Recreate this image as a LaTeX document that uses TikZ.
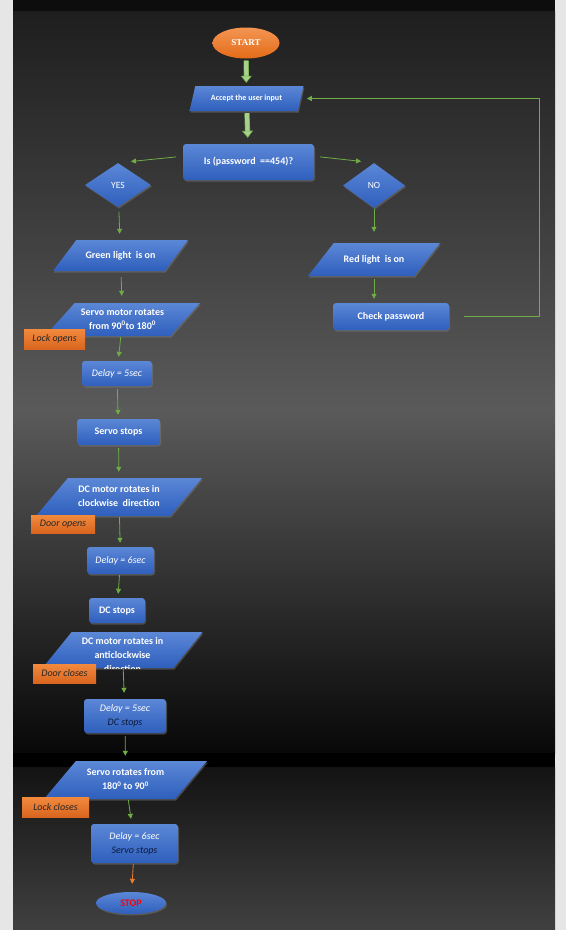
\documentclass[tikz,border=0pt]{standalone}
\usepackage{fontspec}
\setmainfont{Carlito}
\newfontfamily\startfont{Liberation Serif}
\usetikzlibrary{arrows.meta, shapes.geometric, shadows}

\definecolor{bluetop}{HTML}{5B87D6}
\definecolor{bluebot}{HTML}{2F5FBD}
\definecolor{flowgreen}{HTML}{70AD47}
\definecolor{palegreen}{HTML}{A9D18E}
\definecolor{orangetop}{HTML}{F28A3E}
\definecolor{orangebot}{HTML}{D9651F}
\definecolor{starttop}{HTML}{F39552}
\definecolor{startbot}{HTML}{E46C19}
\definecolor{arroworange}{HTML}{ED7D31}
\definecolor{inknavy}{HTML}{0B1A3A}
\definecolor{pagegrey}{HTML}{E6E6E6}
\definecolor{bgA}{HTML}{1E1E1E}
\definecolor{bgB}{HTML}{5A5A5A}
\definecolor{bgC}{HTML}{080808}
\definecolor{bgD}{HTML}{131313}
\definecolor{bgE}{HTML}{404040}

% text of a parallelogram, in a box as tall as the shape
\newcommand\paralines[2]{\vbox to #1pt{\vss\hbox{\begin{tabular}{@{}c@{}}#2\end{tabular}}\vss}}

\begin{document}
\begin{tikzpicture}[x=1pt, y=-1pt,
  every node/.style={font=\fontsize{10}{14}\selectfont\bfseries, text=white, align=center},
  bluefill/.style={top color=bluetop, bottom color=bluebot,
    drop shadow={shadow xshift=1pt, shadow yshift=-1.5pt, opacity=0.45}},
  box/.style={bluefill, rectangle, rounded corners=3pt, inner sep=1pt},
  para/.style={bluefill, trapezium, trapezium stretches body, inner sep=0pt},
  choice/.style={bluefill, diamond, inner sep=0pt, font=\fontsize{9.5}{10}\selectfont},
  tag/.style={rectangle, top color=orangetop, bottom color=orangebot, inner sep=1pt,
    font=\fontsize{10}{12}\selectfont\itshape, text=black!85},
  slanted/.style={font=\fontsize{10}{14}\selectfont\itshape},
  flow/.style={draw=flowgreen, line width=0.8pt, -{Triangle[width=5pt,length=5pt]},
    shorten <=3pt, shorten >=4pt},
  fat/.style={draw=flowgreen, line width=0.6pt, double=palegreen, double distance=4pt,
    -{Triangle[width=11pt,length=7pt,fill=palegreen]}, shorten <=2pt, shorten >=3pt}]

\useasboundingbox (0,0) rectangle (566,930);
\fill[pagegrey] (0,0) rectangle (566,930);
\fill[black!95] (13,0) rectangle (555,11);
\shade[top color=bgA, bottom color=bgB] (13,11) rectangle (555,410);
\shade[top color=bgB, bottom color=bgC] (13,410) rectangle (555,753);
\fill[black] (13,753) rectangle (555,767);
\shade[top color=bgD, bottom color=bgE] (13,767) rectangle (555,930);

\node[ellipse, minimum width=67, minimum height=31, inner sep=1pt, top color=starttop,
  bottom color=startbot, font=\startfont\bfseries\fontsize{9}{10}\selectfont] (start) at (246,43) {START};
\node[para, trapezium left angle=77, trapezium right angle=103, minimum width=114,
  font=\fontsize{8}{10}\selectfont\bfseries] (accept) at (246.5,98.5) {\paralines{25}{Accept the user input}};
\node[box, minimum width=131, minimum height=36] (check454) at (248.5,162) {Is (password\ \ ==454)?};
\node[choice, minimum width=66, minimum height=44] (yes) at (118,185) {YES};
\node[choice, minimum width=62, minimum height=45] (no) at (374,185.5) {NO};

\node[para, trapezium left angle=53, trapezium right angle=127, minimum width=135]
  (greenlight) at (120.5,255.5) {\paralines{31}{Green light\ \ is on}};
\node[para, trapezium left angle=52, trapezium right angle=128, minimum width=132]
  (redlight) at (374,259.5) {\paralines{33}{Red light\ \ is on}};
\node[box, minimum width=116, minimum height=27] (recheck) at (391,316.5) {Check password};

\node[para, trapezium left angle=48, trapezium right angle=132, minimum width=155]
  (servoopen) at (122.5,319.5) {\paralines{33}{Servo motor rotates\\from 90\textsuperscript{0}to 180\textsuperscript{0}}};
\node[tag, minimum width=61, minimum height=20] (lockopen) at (54.5,339) {Lock opens};
\node[box, slanted, minimum width=70, minimum height=25] (wait1) at (117,373.5) {Delay = 5sec};
\node[box, minimum width=83, minimum height=26] (servostop) at (118.5,432) {Servo stops};

\node[para, trapezium left angle=50, trapezium right angle=130, minimum width=166]
  (dcopen) at (119,497) {\paralines{38}{DC motor rotates in\\clockwise\ \ direction}};
\node[tag, minimum width=64, minimum height=18] (dooropen) at (63,524) {Door opens};
\node[box, slanted, minimum width=67, minimum height=27] (wait2) at (120.5,560.5) {Delay = 6sec};
\node[box, minimum width=56, minimum height=25] (dcstop) at (117,610.5) {DC stops};

\node[para, trapezium left angle=51, trapezium right angle=129, minimum width=160,
  path picture={
    \node at ([yshift=-5pt]path picture bounding box.center) {DC motor rotates in\\anticlockwise\\direction};
  }] (dcclose) at (122.5,650) {\paralines{36}{\phantom{DC motor rotates in}}};
\node[tag, minimum width=63, minimum height=19] (doorclose) at (64.5,673.5) {Door closes};
\node[box, slanted, minimum width=82, minimum height=34] (wait3) at (125,716) {Delay = 5sec\\\textcolor{inknavy}{DC stops}};

\node[para, trapezium left angle=50, trapezium right angle=130, minimum width=163]
  (servoclose) at (125.5,780) {\paralines{38}{Servo rotates from\\180\textsuperscript{0} to 90\textsuperscript{0}}};
\node[tag, minimum width=67, minimum height=20] (lockclose) at (55.5,807) {Lock closes};
\node[box, slanted, minimum width=87, minimum height=39] (wait4) at (134.5,843.5) {Delay = 6sec\\\textcolor{inknavy}{Servo stops}};
\node[bluefill, ellipse, minimum width=70, minimum height=22, inner sep=1pt, text=red] (stop) at (131,903) {STOP};

\draw[fat] (start) -- (accept);
\draw[fat, shorten >=6pt] (accept) -- (check454);
\draw[flow, shorten <=7pt, shorten >=13pt] (check454.175) -- (yes.north);
\draw[flow, shorten <=6pt, shorten >=13pt] (check454.5) -- (no.north);
\draw[flow, shorten <=1pt, shorten >=11pt] (no) -- (redlight);
\draw[flow] (redlight.south) -- (redlight.south |- recheck.north);
\draw[flow, shorten <=15pt, shorten >=6pt] (recheck.east) -- ++(90,0) |- (accept.east);
\draw[flow, shorten <=5pt, shorten >=6pt] (yes) -- (greenlight);
\draw[flow, shorten <=6pt, shorten >=7pt] (greenlight) -- (servoopen);
\draw[flow, shorten <=1pt] (servoopen) -- (wait1);
\draw[flow] (wait1) -- (servostop);
\draw[flow, shorten >=6pt] (servostop) -- (dcopen);
\draw[flow, shorten <=1pt] (dcopen) -- (wait2);
\draw[flow, shorten <=1pt] (wait2) -- (dcstop);
\draw[flow, shorten <=1pt, shorten >=6pt] (dcclose) -- (wait3);
\draw[flow, shorten >=5pt] (wait3) -- (servoclose);
\draw[flow, shorten <=1pt, shorten >=5pt] (servoclose) -- (wait4);
\draw[flow, draw=arroworange, shorten <=1pt, shorten >=8pt] (wait4) -- (stop);
\end{tikzpicture}
\end{document}
